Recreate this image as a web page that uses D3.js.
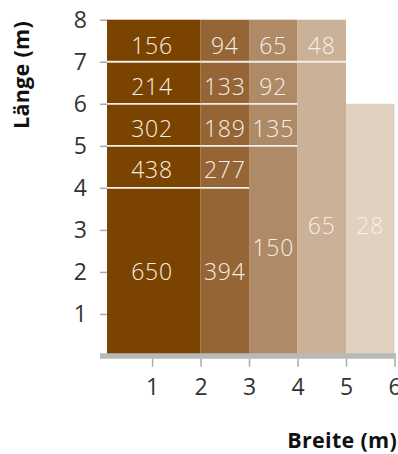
<!DOCTYPE html>
<html><head><meta charset="utf-8">
<script src="https://cdn.jsdelivr.net/npm/d3@7"></script>
<style>body{margin:0;background:#fff}svg{display:block}</style>
</head><body>
<script>
// Data
const colStart = [0, 2, 3, 4, 5];
const colEnd   = [2, 3, 4, 5, 6];
const colTop   = [8, 8, 8, 8, 6];
const colColors = ["#7b4300", "#956535", "#ae8a67", "#cab197", "#e0d1c1"];
const colDividers = [[4,5,6,7],[4,5,6,7],[5,6,7],[7],[]];
const colValues = [[156,214,302,438,650],[94,133,189,277,394],[65,92,135,150],[48,65],[28]];
const colLabelY = [[7.38,6.4,5.41,4.42,2.0],[7.38,6.4,5.41,4.42,2.0],[7.38,6.4,5.41,2.57],[7.38,3.1],[3.1]];
const xTicks = [1,2,3,4,5,6];
const yTicks = [1,2,3,4,5,6,7,8];
const xTitle = "Breite (m)";
const yTitle = "Länge (m)";

const W = 398, H = 454;
const svg = d3.select("body").append("svg").attr("width", W).attr("height", H);
const x = d3.scaleLinear().domain([0, 6]).range([103.6, 394.5]);
const y = d3.scaleLinear().domain([0, 8]).range([356, 19.7]);
const font = "'Open Sans', Lato, sans-serif";

// clip to plot left edge
svg.append("clipPath").attr("id","pc").append("rect")
  .attr("x", 107).attr("y", 0).attr("width", W).attr("height", H);
const g = svg.append("g").attr("clip-path","url(#pc)");

const cols = d3.range(colStart.length);
g.selectAll("rect.col").data(cols).join("rect")
  .attr("x", i => x(colStart[i]))
  .attr("width", i => x(colEnd[i]) - x(colStart[i]))
  .attr("y", i => y(colTop[i]))
  .attr("height", i => y(0) - y(colTop[i]))
  .attr("fill", i => colColors[i]);

// divider lines
const divs = [];
cols.forEach(i => colDividers[i].forEach(v => divs.push({i, v})));
g.selectAll("line.div").data(divs).join("line")
  .attr("x1", d => x(colStart[d.i])).attr("x2", d => x(colEnd[d.i]))
  .attr("y1", d => y(d.v)).attr("y2", d => y(d.v))
  .attr("stroke", "#f4eee8").attr("stroke-width", 1.8);

// labels
const labs = [];
cols.forEach(i => colValues[i].forEach((v, k) => labs.push({i, v, ly: colLabelY[i][k]})));
svg.selectAll("text.val").data(labs).join("text")
  .attr("x", d => x((colStart[d.i] + colEnd[d.i]) / 2))
  .attr("y", d => y(d.ly))
  .attr("dy", "0.36em")
  .attr("text-anchor", "middle")
  .attr("font-family", font).attr("font-weight", 300)
  .attr("font-size", 23).attr("letter-spacing", 0.8)
  .attr("fill", "#f6f0ea")
  .text(d => d.v);

// baseline
svg.append("line").attr("x1", 100).attr("x2", 396)
  .attr("y1", y(0)).attr("y2", y(0))
  .attr("stroke", "#b9b9b9").attr("stroke-width", 5.4);

// y axis
const ya = svg.append("g").attr("transform", "translate(107,0)")
  .call(d3.axisLeft(y).tickValues(yTicks).tickSize(7).tickPadding(13).tickFormat(d3.format("d")));
ya.select(".domain").remove();
ya.selectAll(".tick line").attr("stroke", "#aaa").attr("stroke-width", 1.5);
ya.selectAll(".tick text").attr("font-family", font).attr("font-size", 23).attr("fill", "#333");

// x axis
const xa = svg.append("g").attr("transform", `translate(0,${y(0)+2.7})`)
  .call(d3.axisBottom(x).tickValues(xTicks).tickSize(8).tickPadding(12).tickFormat(d3.format("d")));
xa.select(".domain").remove();
xa.selectAll(".tick line").attr("stroke", "#aaa").attr("stroke-width", 1.5);
xa.selectAll(".tick text").attr("font-family", font).attr("font-size", 23).attr("fill", "#333");

// titles
svg.append("text").attr("x", 397).attr("y", 448).attr("text-anchor", "end")
  .attr("font-family", font).attr("font-weight", 700).attr("font-size", 21.5).attr("letter-spacing", 0.3).attr("fill", "#111")
  .text(xTitle);
svg.append("text").attr("transform", "translate(29,75) rotate(-90)").attr("text-anchor", "middle")
  .attr("font-family", font).attr("font-weight", 700).attr("font-size", 21.5).attr("letter-spacing", 0.3).attr("fill", "#111")
  .text(yTitle);
</script>
</body></html>
